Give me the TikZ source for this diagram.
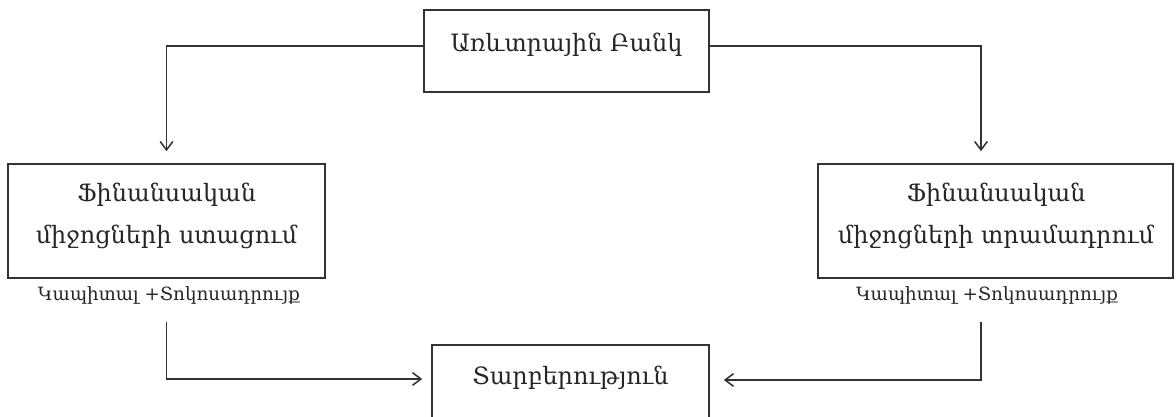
\documentclass[tikz,border=0pt]{standalone}
\usepackage{fontspec}
\usepackage{tikz}
\usetikzlibrary{arrows.meta, positioning, calc}
\newfontfamily\armfont{DejaVu Serif}

\begin{document}
\begin{tikzpicture}[x=0.025cm, y=-0.025cm,
    box/.style={draw=black!80, line width=1.1pt},
    txt/.style={font=\armfont\fontsize{17}{30}\selectfont, align=center, text=black!85},
    small/.style={font=\armfont\fontsize{13}{15}\selectfont, text=black!85},
    conn/.style={draw=black!80, line width=1.1pt, -{Straight Barb[length=6pt,width=9pt]}}]
    \useasboundingbox (0,0) rectangle (1176,416);
    % boxes
    \node[box, minimum width=7.125cm, minimum height=2.05cm] (bank) at (566.5,51) {};
    \node[txt] (banktxt) at (566.5,45) {Առևտրային Բանկ};
    \node[box, minimum width=7.925cm, minimum height=2.85cm] (get) at (166.5,221) {};
    \node[txt] (gettxt) at (166.5,216) {Ֆինանսական\\միջոցների ստացում};
    \node[box, minimum width=8.875cm, minimum height=2.85cm] (give) at (995.5,221) {};
    \node[txt] (givetxt) at (996,216) {Ֆինանսական\\միջոցների տրամադրում};
    \node[box, minimum width=6.925cm, minimum height=2.125cm] (diff) at (570.5,387.5) {};
    \node[txt] (difftxt) at (570.5,378) {Տարբերություն};
    % labels under the boxes
    \node[small] (getlab) at (169,295) {Կապիտալ +Տոկոսադրույք};
    \node[small] (givelab) at (987,295) {Կապիտալ +Տոկոսադրույք};
    % arrows
    \draw[conn, shorten >=0.3cm] ($(bank.west)+(0,-5)$) -| (get.north);
    \draw[conn, shorten >=0.3cm] ($(bank.east)+(0,-5)$) -| ($(give.north)+(-14.5,0)$);
    \draw[conn] ($(getlab.south -| get.south)+(0,13)$) |- ($(diff.west)+(-9,-8.5)$);
    \draw[conn] ($(givelab.south -| give.south)+(-14.5,13)$) |- ($(diff.east)+(14,-7.5)$);
\end{tikzpicture}
\end{document}
